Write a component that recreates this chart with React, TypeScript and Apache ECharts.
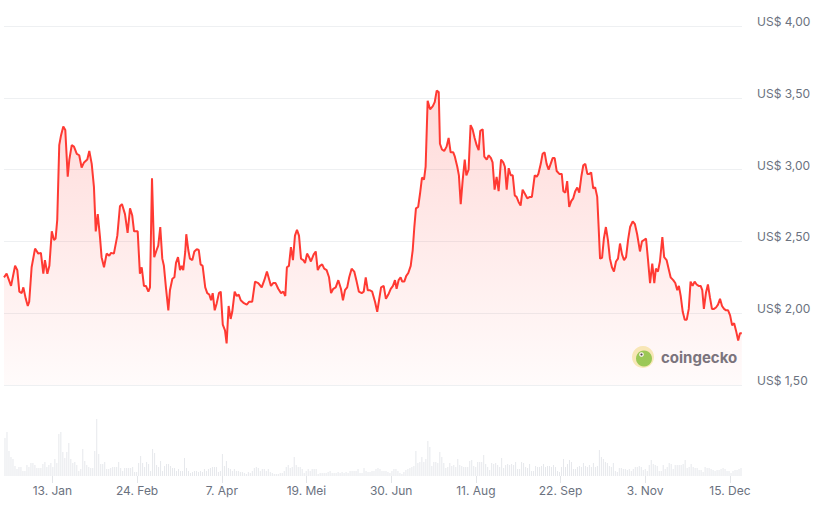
import React, { useEffect, useRef } from "react";
import * as echarts from "echarts";

// x values are days since 20 Dec 2024
const tickDays = [24, 66, 108, 150, 192, 234, 276, 318, 360];
const tickLabels = ["13. Jan", "24. Feb", "7. Apr", "19. Mei", "30. Jun", "11. Aug", "22. Sep", "3. Nov", "15. Dec"];

const priceMin = 1.5;
const priceMax = 4.0;
const priceStep = 0.5;

// [day, price in US$]
const pricePoints: [number, number][] = [
  [0,2.25],[1.3,2.275],[3.5,2.19],[5.5,2.33],[6.6,2.3],[7.6,2.15],[8.8,2.14],[9.6,2.18],[10.8,2.1],[11.8,2.05],[12.5,2.08],[13.7,2.32],[15.4,2.45],[17,2.415],[18.3,2.42],[19.5,2.275],[20.3,2.37],[21.5,2.275],[22.5,2.33],[23.7,2.57],[24.8,2.51],[25.6,2.52],[26.4,2.65],[27.4,3.17],[28.3,3.24],[29.4,3.3],[30.4,3.275],[31.6,2.95],[32.4,3.07],[33.6,3.17],[34.7,3.16],[36.1,3.11],[37.3,3.1],[38.5,3.015],[39.7,3.05],[41.3,3.07],[42.3,3.13],[43.5,3.04],[44.6,2.88],[45.5,2.57],[46.5,2.69],[47.6,2.53],[48.4,2.39],[49.6,2.32],[50.9,2.415],[52.2,2.4],[53.1,2.42],[54.5,2.415],[56.2,2.54],[57.5,2.745],[58.5,2.76],[60,2.69],[61.3,2.56],[62.5,2.73],[63.6,2.68],[64.5,2.57],[66.3,2.57],[67.4,2.275],[68.3,2.32],[69.4,2.19],[70.4,2.19],[71.6,2.15],[72.4,2.18],[73.4,2.94],[74.5,2.39],[75.7,2.44],[76.5,2.47],[77.5,2.6],[78.5,2.38],[79.3,2.33],[80.3,2.18],[81.5,2.02],[82.3,2.16],[83.5,2.24],[84.5,2.25],[85.3,2.35],[86.3,2.39],[87.3,2.3],[88.1,2.33],[88.9,2.3],[89.9,2.43],[90.4,2.55],[91.4,2.44],[92.2,2.38],[93.4,2.37],[94.4,2.43],[95.6,2.445],[96.6,2.44],[97.5,2.34],[98.5,2.33],[99.8,2.18],[100.8,2.14],[101.8,2.13],[102.7,2.09],[103.5,2.14],[104.5,2.02],[105.5,2.07],[106.6,2.14],[107.5,2.15],[108.5,1.92],[109.6,1.88],[110.4,1.79],[111.4,2.05],[112.4,1.96],[113.2,2.01],[114.4,2.15],[115.4,2.12],[116.4,2.13],[117.4,2.09],[119,2.07],[120.4,2.06],[121.6,2.08],[123.1,2.08],[124.5,2.22],[126.1,2.21],[127.8,2.18],[129.1,2.23],[130.4,2.29],[131.4,2.24],[132.4,2.19],[133.5,2.21],[134.7,2.21],[136,2.17],[137.4,2.14],[138.5,2.15],[139.5,2.12],[140.3,2.32],[141.3,2.33],[142.3,2.46],[143.3,2.37],[144.3,2.54],[145.3,2.58],[146.3,2.54],[147.3,2.38],[148.4,2.37],[149.3,2.35],[150.3,2.415],[151.3,2.39],[152.2,2.36],[153.6,2.41],[154.6,2.43],[155.6,2.3],[156.7,2.33],[157.8,2.34],[158.8,2.31],[160,2.3],[161.2,2.25],[162.2,2.14],[163.3,2.17],[164.5,2.18],[165.8,2.23],[167.1,2.17],[168.1,2.09],[169.1,2.16],[170.2,2.18],[171.2,2.25],[172.4,2.31],[173.7,2.29],[174.9,2.22],[176,2.15],[177.4,2.14],[178.4,2.15],[179.4,2.25],[180.4,2.16],[181.5,2.16],[182.6,2.15],[184,2.08],[185.1,2.01],[186,2.09],[187,2.18],[188.3,2.19],[189.4,2.1],[190.6,2.13],[191.8,2.17],[192.9,2.19],[193.9,2.23],[194.7,2.17],[195.7,2.23],[196.7,2.25],[197.5,2.22],[198.5,2.22],[199.5,2.26],[200.5,2.28],[201.7,2.33],[202.7,2.44],[203.5,2.6],[204.3,2.73],[205.4,2.74],[206.3,2.83],[207.3,2.945],[208.3,2.93],[209.1,3.02],[210.1,3.48],[211.3,3.42],[212.6,3.44],[213.6,3.47],[214.6,3.55],[215.6,3.54],[216.2,3.18],[217.2,3.14],[218.3,3.13],[219.5,3.16],[220.5,3.22],[221.5,3.12],[222.8,3.12],[223.6,3.09],[224.8,3.02],[225.6,2.96],[226.5,2.76],[227.5,2.93],[228.5,3.07],[229.3,2.96],[230.4,3],[231.4,3.31],[232.4,3.28],[233.4,3.22],[234.4,3.17],[235.4,3.135],[236.2,3.27],[237.4,3.28],[238.2,3.09],[239.4,3.07],[240.4,3.1],[241.5,3.08],[242.3,3.05],[243.3,2.86],[244.3,2.95],[245.3,2.85],[246.5,3.07],[247.6,3.05],[248.4,3.02],[249.3,2.86],[250.3,3.01],[251.3,2.96],[252.3,2.96],[253.3,2.82],[254.2,2.81],[255.2,2.775],[256.2,2.75],[257.2,2.86],[258.4,2.83],[259.5,2.8],[260.8,2.81],[261.8,2.81],[263.2,2.96],[264.2,2.95],[265,2.97],[266.2,3.04],[267.1,3.11],[268.1,3.12],[269.1,3.04],[270.1,3],[271.1,3.04],[272.1,3.08],[273.1,3.08],[274.1,2.99],[275.4,2.97],[276.6,2.97],[277.4,2.85],[278.4,2.84],[279.3,2.92],[280.3,2.74],[281.3,2.78],[282.3,2.8],[283.3,2.85],[284.3,2.875],[285.3,2.84],[286.3,2.95],[287.3,3.03],[288.3,3.04],[289.3,2.97],[290.3,2.97],[291.2,2.98],[292.2,2.87],[293.2,2.875],[294.2,2.81],[294.9,2.6],[295.6,2.38],[296.6,2.385],[297.5,2.52],[298.5,2.6],[299.5,2.51],[300.5,2.38],[301.5,2.32],[302.5,2.29],[303.5,2.36],[304.5,2.38],[305.5,2.485],[306.5,2.41],[307.5,2.37],[308.5,2.39],[309.5,2.51],[310.5,2.6],[311.8,2.64],[312.9,2.62],[314,2.55],[315.4,2.43],[316.4,2.5],[317.4,2.51],[318.4,2.52],[319.4,2.37],[320.4,2.21],[321.5,2.345],[322.5,2.21],[323.3,2.31],[324.3,2.29],[325.3,2.36],[326.5,2.53],[327.4,2.39],[328.6,2.37],[329.6,2.31],[330.6,2.25],[331.9,2.23],[332.9,2.21],[333.9,2.16],[334.7,2.19],[335.6,2.12],[336.6,2.01],[337.6,1.955],[338.6,1.955],[339.6,2.03],[340.5,2.22],[341.5,2.19],[342.5,2.22],[343.5,2.2],[344.5,2.19],[345.5,2.19],[346.3,2.16],[347.1,2.03],[348.1,2.14],[349.1,2.2],[350.1,2.11],[351.1,2.03],[352.1,2.03],[353.1,2.04],[354.1,2.06],[355.1,2.1],[356.1,2.05],[357.1,2.03],[358.1,2.02],[359.1,2.02],[360.1,1.985],[361.1,1.915],[362.1,1.93],[363.1,1.875],[364.1,1.81],[365,1.86],[365.9,1.86]
];

// daily trading volume (relative units)
const volumes: number[] = [
  38,44,25,19,17,10,7,9,9,5, 5,11,9,13,13,11,8,8,8,12, 14,9,11,13,9,17,13,42,44,24, 18,24,33,17,13,14,11,5,7,27,
  15,11,9,8,8,25,57,22,12,12, 14,7,7,8,9,9,9,14,8,5, 8,8,8,8,9,4,4,13,20,13, 9,14,12,5,27,23,11,9,15,5,
  10,12,12,10,8,8,5,7,5,5, 18,8,5,3,4,5,5,4,5,4, 7,5,7,8,9,9,9,4,5,22, 10,15,8,7,5,7,5,5,4,4,
  3,2,4,3,5,8,9,8,5,7, 7,5,7,4,3,2,2,2,3,3, 5,9,11,8,9,19,11,9,9,7, 3,5,7,5,7,7,7,2,3,3,
  3,3,4,5,3,3,3,4,3,4, 3,4,3,5,5,5,5,7,3,3, 8,5,4,4,5,5,7,8,7,5, 5,5,4,3,5,7,7,5,3,2, 4,6,7,
  8,9,10,25,13,14,19,14,17,35, 29,10,14,14,13,24,19,13,8,9, 13,10,11,9,17,11,10,9,9,9, 15,16,10,9,14,14,14,21,12,9,
  6,13,12,13,11,9,18,8,11,12, 11,12,11,14,7,7,14,13,9,8, 12,5,5,10,9,9,10,12,9,10, 10,9,11,9,5,4,9,17,9,12,
  16,14,7,7,9,10,9,13,10,9, 11,9,13,9,10,26,19,17,14,13, 10,9,13,5,4,8,8,7,7,6, 7,5,7,9,9,10,9,6,7,5,
  11,16,12,11,10,5,5,11,7,9, 13,12,7,11,11,11,11,12,16,8, 9,12,9,8,8,6,6,4,9,8, 8,7,6,5,6,6,7,8,7,5, 5,3,5,6,6,7,8
];

const dayMax = 366;
const volumeMax = 80;

export default function App() {
  const ref = useRef<HTMLDivElement>(null);

  useEffect(() => {
    if (!ref.current) return;
    const chart = echarts.init(ref.current, undefined, { renderer: "svg" });
    const labelColor = "#6b7280";
    chart.setOption({
      animation: false,
      backgroundColor: "#ffffff",
      textStyle: { fontFamily: "Inter, 'Noto Sans', sans-serif" },
      grid: [
        { left: 4, width: 738, top: 26, height: 359 },
        { left: 4, width: 738, top: 396, height: 80 },
      ],
      xAxis: [
        { type: "value", gridIndex: 0, min: 0, max: dayMax, show: false },
        {
          type: "value",
          gridIndex: 1,
          min: 0,
          max: dayMax,
          axisLine: { show: false },
          splitLine: { show: false },
          axisTick: {
            show: true,
            customValues: tickDays,
            length: 7,
            lineStyle: { color: "#e3e5e8", width: 1 },
          },
          axisLabel: {
            customValues: tickDays,
            color: labelColor,
            fontSize: 12,
            margin: 8,
            formatter: (v: number) => {
              const i = tickDays.indexOf(Math.round(v));
              return i >= 0 ? tickLabels[i] : "";
            },
          },
        },
        {
          type: "category",
          gridIndex: 1,
          data: volumes.map((_, i) => i),
          show: false,
        },
      ],
      yAxis: [
        {
          type: "value",
          gridIndex: 0,
          position: "right",
          min: priceMin,
          max: priceMax,
          interval: priceStep,
          axisLine: { show: false },
          axisTick: { show: false },
          splitLine: { show: true, lineStyle: { color: "#eef0f2", width: 1 } },
          axisLabel: {
            color: labelColor,
            fontSize: 12,
            margin: 15,
            align: "left",
            verticalAlign: "bottom",
            lineHeight: 9,
            formatter: (v: number) => "US$ " + v.toFixed(2).replace(".", ","),
          },
        },
        { type: "value", gridIndex: 1, min: 0, max: volumeMax, show: false },
      ],
      series: [
        {
          type: "line",
          xAxisIndex: 0,
          yAxisIndex: 0,
          data: pricePoints,
          showSymbol: false,
          silent: true,
          lineStyle: { color: "#ff3a33", width: 2 },
          areaStyle: {
            origin: "start",
            color: new echarts.graphic.LinearGradient(0, 0, 0, 1, [
              { offset: 0, color: "rgba(255,58,51,0.27)" },
              { offset: 1, color: "rgba(255,58,51,0.03)" },
            ]),
          },
        },
        {
          type: "bar",
          xAxisIndex: 2,
          yAxisIndex: 1,
          data: volumes,
          barWidth: 1,
          silent: true,
          itemStyle: { color: "#e6e8ec" },
        },
      ],
      graphic: [
        {
          type: "group",
          left: 632,
          top: 346,
          silent: true,
          children: [
            { type: "circle", shape: { cx: 11, cy: 11, r: 11 }, style: { fill: "#f8eebc" } },
            { type: "circle", shape: { cx: 12, cy: 12.5, r: 8 }, style: { fill: "#98cd58" } },
            { type: "circle", shape: { cx: 9.5, cy: 8.5, r: 2.3 }, style: { fill: "#ffffff" } },
            { type: "circle", shape: { cx: 9.5, cy: 8.5, r: 1.1 }, style: { fill: "#4a4a4a" } },
            {
              type: "text",
              x: 29,
              y: 11,
              style: {
                text: "coingecko",
                fill: "#76767f",
                font: "bold 15px Inter, 'Noto Sans', sans-serif",
                verticalAlign: "middle",
              },
            },
          ],
        },
      ],
    });
    return () => chart.dispose();
  }, []);

  return (
    <div
      ref={ref}
      style={{ position: "absolute", left: 0, top: 0, width: 820, height: 513 }}
    />
  );
}
